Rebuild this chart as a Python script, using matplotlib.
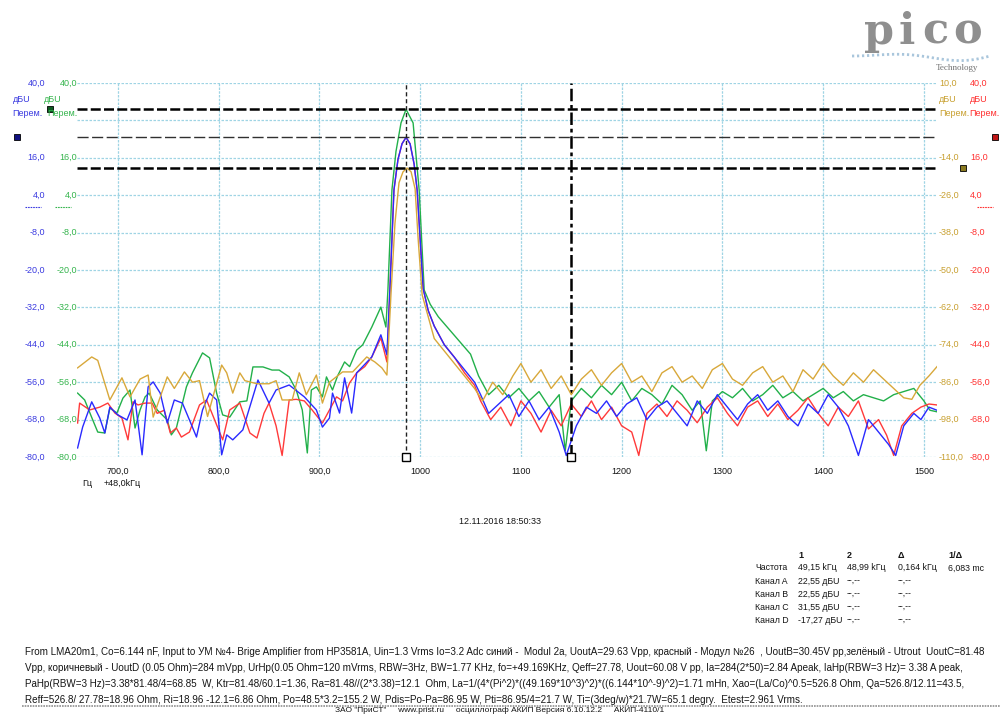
import matplotlib
matplotlib.use("Agg")
import matplotlib.pyplot as plt
import numpy as np
from matplotlib.transforms import blended_transform_factory

plt.rcParams['font.family'] = ['Liberation Sans', 'DejaVu Sans']

W, H = 1002, 715

# ---- axes ranges ----
X_MIN, X_MAX = 659.4, 1513.0
x_ticks = [700, 800, 900, 1000, 1100, 1200, 1300, 1400, 1500]
x_tick_labels = ['700,0', '800,0', '900,0', '1000', '1100', '1200', '1300', '1400', '1500']
y_ticks = [40, 28, 16, 4, -8, -20, -32, -44, -56, -68, -80]          # channels A, B, C
y_ticks_d = [10, -2, -14, -26, -38, -50, -62, -74, -86, -98, -110]   # channel D

# ---- traces: frequency (Hz, offset from 48.0 kHz) and level (dBU) ----
blue_f = [660, 665, 674, 682, 687, 692, 700, 709, 717, 724, 730, 735, 742, 749, 756, 764, 771,
          778, 784, 791, 798, 803, 808, 814, 824, 833, 839, 850, 857, 870, 885, 897, 903, 910,
          913, 920, 925, 932, 937, 952, 961, 967, 970, 974, 978, 982, 986, 990, 994, 997, 1003,
          1008, 1014, 1024, 1034, 1044, 1054, 1060, 1068, 1078, 1088, 1098, 1108, 1118, 1128,
          1138, 1145, 1155, 1165, 1175, 1185, 1195, 1205, 1215, 1225, 1235, 1245, 1255, 1265,
          1275, 1285, 1295, 1305, 1315, 1325, 1335, 1345, 1355, 1365, 1375, 1385, 1395, 1405,
          1415, 1425, 1435, 1445, 1455, 1465, 1472, 1480, 1490, 1497, 1505, 1513]
blue_db = [-77.1, -70.4, -62.3, -67.5, -72.3, -64.0, -66.5, -68.1, -61.7, -79.3, -57.5, -55.9,
           -59.5, -69.1, -61.7, -62.7, -68.1, -73.6, -64.9, -59.5, -61.7, -79.3, -72.9, -74.5,
           -71.3, -61.7, -55.3, -62.7, -58.5, -56.9, -60.7, -64.9, -70.4, -67.5, -59.5, -65.9,
           -54.6, -65.9, -53.0, -47.9, -40.8, -47.2, -26.0, 5.7, 15.5, 20.5, 22.55, 20.5, 14.0,
           5.7, -26.0, -33.0, -38.0, -44.0, -48.0, -52.0, -56.0, -60.0, -66.0, -63.0, -60.0,
           -67.0, -62.0, -68.0, -64.0, -72.0, -79.5, -70.0, -64.0, -66.0, -62.0, -67.0, -63.0,
           -61.0, -68.0, -64.0, -62.0, -66.0, -70.0, -62.0, -66.0, -60.0, -64.0, -68.0, -63.0,
           -60.0, -65.0, -62.0, -67.0, -70.0, -63.0, -66.0, -60.0, -64.0, -70.0, -79.5, -68.0,
           -72.0, -76.0, -79.5, -70.0, -66.0, -68.0, -64.0, -65.0]

red_f = [660, 662, 672, 682, 690, 697, 704, 710, 715, 720, 727, 734, 739, 746, 752, 758, 763,
         771, 781, 788, 794, 804, 811, 821, 831, 838, 845, 850, 857, 863, 870, 877, 885, 893,
         903, 910, 917, 923, 930, 937, 945, 952, 961, 967, 970, 974, 978, 982, 986, 990, 994,
         997, 1003, 1008, 1014, 1024, 1034, 1044, 1054, 1060, 1070, 1080, 1090, 1100, 1110,
         1120, 1130, 1140, 1150, 1160, 1170, 1180, 1190, 1200, 1210, 1217, 1225, 1235, 1245,
         1255, 1265, 1275, 1285, 1295, 1305, 1315, 1325, 1335, 1345, 1355, 1365, 1375, 1385,
         1395, 1405, 1415, 1425, 1435, 1445, 1455, 1463, 1470, 1478, 1488, 1497, 1505, 1513]
red_db = [-69.1, -62.7, -64.9, -64.0, -62.7, -65.9, -67.5, -74.5, -62.3, -63.3, -62.7, -62.7,
          -66.0, -65.0, -72.3, -70.7, -73.6, -72.0, -63.3, -61.7, -66.5, -74.5, -64.9, -62.7,
          -72.3, -73.9, -66.0, -62.7, -70.0, -79.5, -61.7, -61.5, -62.0, -65.0, -69.1, -64.9,
          -60.7, -62.0, -56.2, -53.0, -51.0, -47.9, -41.8, -49.5, -26.0, 5.7, 15.5, 20.5, 22.55,
          20.5, 14.0, 5.7, -26.0, -33.0, -38.0, -44.0, -48.0, -53.0, -57.0, -62.0, -68.0, -64.0,
          -70.0, -62.0, -66.0, -72.0, -65.0, -70.0, -63.0, -67.0, -62.0, -68.0, -64.0, -70.0,
          -72.0, -79.5, -66.0, -63.0, -67.0, -62.0, -65.0, -69.0, -64.0, -61.0, -66.0, -70.0,
          -64.0, -62.0, -67.0, -63.0, -68.0, -65.0, -61.0, -66.0, -70.0, -64.0, -67.0, -62.0,
          -71.0, -68.0, -73.0, -79.5, -70.0, -66.0, -64.0, -63.0, -63.3]

green_f = [660, 667, 675, 680, 687, 692, 699, 705, 712, 717, 722, 727, 731, 739, 749, 753, 758,
           768, 774, 784, 791, 798, 804, 811, 821, 828, 834, 844, 853, 860, 870, 877, 883, 888,
           892, 897, 903, 907, 913, 918, 925, 930, 937, 943, 952, 961, 966, 968, 972, 976, 981,
           986, 993, 999, 1004, 1010, 1018, 1026, 1034, 1042, 1050, 1058, 1068, 1078, 1088, 1098,
           1108, 1118, 1128, 1138, 1144, 1150, 1160, 1170, 1180, 1190, 1200, 1210, 1220, 1230,
           1240, 1250, 1260, 1270, 1278, 1284, 1290, 1300, 1310, 1320, 1330, 1340, 1350, 1360,
           1370, 1380, 1390, 1400, 1410, 1420, 1430, 1440, 1450, 1460, 1470, 1480, 1490, 1500,
           1506, 1513]
green_db = [-59.5, -61.7, -68.1, -72.0, -72.3, -64.3, -65.9, -61.1, -58.5, -70.7, -64.9, -60.7,
            -59.5, -64.9, -68.1, -72.9, -70.7, -57.5, -53.0, -46.6, -48.2, -59.5, -66.5, -67.2,
            -62.3, -62.0, -51.1, -51.1, -52.1, -52.1, -54.3, -58.5, -64.9, -78.7, -58.5, -57.5,
            -60.7, -54.3, -58.5, -54.0, -49.5, -51.0, -45.7, -44.0, -38.3, -31.9, -38.3, -26.4,
            5.7, 18.0, 27.2, 31.55, 27.2, 5.7, -26.4, -31.0, -35.0, -38.0, -41.0, -44.0, -47.0,
            -54.0, -60.0, -57.0, -61.0, -58.0, -62.0, -59.0, -64.0, -60.0, -78.0, -62.0, -58.0,
            -61.0, -57.0, -60.0, -56.0, -62.0, -58.0, -60.0, -63.0, -57.0, -60.0, -65.0, -62.0,
            -78.0, -62.0, -59.0, -61.0, -58.0, -62.0, -60.0, -57.0, -61.0, -59.0, -62.0, -60.0,
            -58.0, -61.0, -59.0, -62.0, -60.0, -61.0, -62.0, -60.0, -59.0, -58.0, -62.0, -65.0,
            -65.5]

orange_f = [660, 674, 680, 692, 704, 712, 722, 730, 735, 749, 756, 766, 774, 781, 789, 803, 808,
            814, 821, 826, 838, 850, 857, 863, 873, 880, 887, 897, 903, 910, 923, 933, 947, 955,
            962, 967, 971, 975, 979, 983, 987, 991, 995, 998, 1002, 1008, 1014, 1024, 1034, 1044,
            1054, 1062, 1072, 1082, 1092, 1100, 1110, 1120, 1130, 1140, 1150, 1160, 1170, 1180,
            1190, 1200, 1210, 1220, 1230, 1240, 1250, 1260, 1270, 1280, 1290, 1300, 1310, 1320,
            1330, 1340, 1350, 1360, 1370, 1380, 1390, 1400, 1410, 1420, 1430, 1440, 1450, 1460,
            1470, 1480, 1488, 1496, 1505, 1513]
orange_db = [-81.4, -77.9, -79.0, -91.7, -84.6, -90.7, -85.0, -83.7, -97.2, -84.3, -88.0, -82.7,
             -86.0, -85.5, -97.0, -80.5, -83.0, -89.5, -83.0, -85.5, -86.5, -86.5, -85.5, -91.7,
             -91.7, -83.0, -90.0, -83.7, -92.7, -86.0, -82.7, -82.7, -77.9, -79.5, -81.4, -83.7,
             -58.0, -35.0, -22.0, -18.5, -17.27, -18.5, -24.0, -40.0, -58.0, -65.0, -72.0, -76.0,
             -80.0, -84.0, -88.0, -92.0, -86.0, -90.0, -84.0, -80.0, -86.0, -82.0, -88.0, -84.0,
             -90.0, -85.0, -82.0, -87.0, -83.0, -80.0, -86.0, -84.0, -89.0, -83.0, -81.0, -86.0,
             -84.0, -88.0, -82.0, -80.0, -85.0, -87.0, -83.0, -81.0, -86.0, -84.0, -89.0, -82.0,
             -85.0, -80.0, -84.0, -87.0, -83.0, -86.0, -82.0, -85.0, -88.0, -91.0, -91.5, -87.0,
             -84.0, -81.0]

# ---- cursors ----
cursor1_f, cursor2_f = 1150, 986          # Hz offset (49,15 kHz and 48,99 kHz)
level_ab, level_c, level_d = 22.55, 31.55, -17.27

BLUE, RED, GREEN, ORANGE = '#2a2aff', '#ff3a3a', '#22b04a', '#d8a83a'
BLUE_T, GREEN_T, RED_T, ORANGE_T = '#3a3ae0', '#34b44c', '#ff3030', '#c8a030'
GRID = '#9fd4e4'
TXT = '#151515'

fig = plt.figure(figsize=(W / 100, H / 100), dpi=100)
fig.patch.set_facecolor('white')


def fx(x):
    return x / W


def fy(y):
    return 1 - y / H


ax = fig.add_axes([fx(77), fy(457), (937 - 77) / W, (457 - 83) / H])
ax.set_xlim(X_MIN, X_MAX)
ax.set_ylim(-80, 40)
for s in ax.spines.values():
    s.set_visible(False)
ax.set_xticks([])
ax.set_yticks([])

ax2 = ax.twinx()
ax2.set_ylim(-110, 10)
for s in ax2.spines.values():
    s.set_visible(False)
ax2.set_yticks([])

# grid
for yv in y_ticks:
    ax.axhline(yv, color=GRID, lw=0.9, ls=(0, (2.0, 1.2)), zorder=1)
for xv in x_ticks:
    ax.axvline(xv, color=GRID, lw=0.9, ls=(0, (2.0, 1.0)), zorder=1)

# traces
ax2.plot(orange_f, orange_db, color=ORANGE, lw=1.0, zorder=3)
ax.plot(green_f, green_db, color=GREEN, lw=1.0, zorder=3)
ax.plot(red_f, red_db, color=RED, lw=1.0, zorder=4)
ax.plot(blue_f, blue_db, color=BLUE, lw=1.0, zorder=5)

# cursor lines
ax.axhline(level_c, color='black', lw=1.8, ls=(0, (4, 1.3)), zorder=6)
ax.axhline(level_ab, color='#303030', lw=1.0, ls=(0, (8, 2.5)), zorder=6)
ax2.axhline(level_d, color='black', lw=1.8, ls=(0, (4, 1.3)), zorder=6)
ax.axvline(cursor2_f, color='#202020', lw=1.0, ls=(0, (3, 2)), zorder=6)
ax.axvline(cursor1_f, color='black', lw=1.8, ls=(0, (5, 1.5, 1.5, 1.5)), zorder=6)
ax.plot([cursor2_f, cursor1_f], [-80, -80], ls='none', marker='s', ms=5.5,
        mfc='white', mec='black', mew=1.0, clip_on=False, zorder=7)

# channel markers beside the axes
tr_l = blended_transform_factory(fig.transFigure, ax.transData)
tr_r = blended_transform_factory(fig.transFigure, ax2.transData)
ax.plot([fx(17)], [level_ab], marker='s', ms=5, mfc='#101080', mec='black', mew=0.6,
        transform=tr_l, clip_on=False)
ax.plot([fx(50)], [level_c], marker='s', ms=5, mfc='#0c5a20', mec='black', mew=0.6,
        transform=tr_l, clip_on=False)
ax.plot([fx(995)], [level_ab], marker='s', ms=5, mfc='#c01818', mec='black', mew=0.6,
        transform=tr_l, clip_on=False)
ax2.plot([fx(963)], [level_d], marker='s', ms=5, mfc='#8a7a20', mec='black', mew=0.6,
         transform=tr_r, clip_on=False)

FS = 6.5
# left tick labels (blue and green share the scale), right (orange, red)
for yv in y_ticks:
    if yv == 28:
        continue
    lab = f'{yv:.1f}'.replace('.', ',')
    ax.text(fx(45), yv, lab, transform=tr_l, ha='right', va='center', fontsize=FS, color=BLUE_T)
    ax.text(fx(77), yv, lab, transform=tr_l, ha='right', va='center', fontsize=FS, color=GREEN_T)
    ax.text(fx(970), yv, lab, transform=tr_l, ha='left', va='center', fontsize=FS, color=RED_T)
for yv in y_ticks_d:
    if yv == -2:
        continue
    lab = f'{yv:.1f}'.replace('.', ',')
    ax2.text(fx(939), yv, lab, transform=tr_r, ha='left', va='center', fontsize=FS, color=ORANGE_T)

# units / mode captions
for x, c in [(13, BLUE_T), (44, GREEN_T), (939, ORANGE_T), (970, RED_T)]:
    fig.text(fx(x), fy(99), 'дБU', fontsize=FS, color=c, ha='left', va='center')
fig.text(fx(12), fy(113), 'Перем.', fontsize=FS, color=BLUE_T, ha='left', va='center')
fig.text(fx(47), fy(113), 'Перем.', fontsize=FS, color=GREEN_T, ha='left', va='center')
fig.text(fx(939), fy(113), 'Перем.', fontsize=FS, color=ORANGE_T, ha='left', va='center')
fig.text(fx(969), fy(113), 'Перем.', fontsize=FS, color=RED_T, ha='left', va='center')

# short line-style swatches under the "4,0" labels
for x0, x1, c in [(25, 41, BLUE_T), (55, 71, GREEN_T), (977, 993, RED_T)]:
    fig.add_artist(plt.Line2D([fx(x0), fx(x1)], [fy(207), fy(207)], color=c, lw=0.8,
                              ls=(0, (1.5, 0.8)), transform=fig.transFigure))

# x tick labels
tr_x = blended_transform_factory(ax.transData, fig.transFigure)
for xv, lab in zip(x_ticks, x_tick_labels):
    ax.text(xv, fy(471), lab, transform=tr_x, ha='center', va='center', fontsize=FS, color=TXT)
fig.text(fx(82), fy(484), 'Гц', fontsize=FS, color=TXT, va='center')
fig.text(fx(104), fy(484), '+48,0kГц', fontsize=FS, color=TXT, va='center')

# timestamp
fig.text(fx(500), fy(522), '12.11.2016 18:50:33', fontsize=FS, ha='center', va='center', color=TXT)

# cursor table
col_x = [755, 798, 847, 898, 948]
hdr = ['', '1', '2', 'Δ', '1/Δ']
rows = [['Частота', '49,15 kГц', '48,99 kГц', '0,164 kГц', '6,083 mc'],
        ['Канал A', '22,55 дБU', '--,--', '--,--', ''],
        ['Канал B', '22,55 дБU', '--,--', '--,--', ''],
        ['Канал C', '31,55 дБU', '--,--', '--,--', ''],
        ['Канал D', '-17,27 дБU', '--,--', '--,--', '']]
for x, t in zip(col_x, hdr):
    fig.text(fx(x), fy(555), t, fontsize=FS, fontweight='bold', va='center', color=TXT)
for r, row in enumerate(rows):
    yy = 568 + r * 13.2
    for x, t in zip(col_x, row):
        fig.text(fx(x), fy(yy), t, fontsize=FS - 0.2, va='center', color=TXT)

# notes
notes = [
    'From LMA20m1, Co=6.144 nF, Input to УМ №4- Brige Amplifier from HP3581A, Uin=1.3 Vrms Io=3.2 Adc синий -  Modul 2a, UoutA=29.63 Vpp, красный - Модул №26  , UoutB=30.45V pp,зелёный - Utrout  UoutC=81.48',
    'Vpp, коричневый - UoutD (0.05 Ohm)=284 mVpp, UrHp(0.05 Ohm=120 mVrms, RBW=3Hz, BW=1.77 KHz, fo=+49.169KHz, Qeff=27.78, Uout=60.08 V pp, Ia=284(2*50)=2.84 Apeak, IaHp(RBW=3 Hz)= 3.38 A peak,',
    'PaHp(RBW=3 Hz)=3.38*81.48/4=68.85  W, Ktr=81.48/60.1=1.36, Ra=81.48//(2*3.38)=12.1  Ohm, La=1/(4*(Pi^2)*((49.169*10^3)^2)*((6.144*10^-9)^2)=1.71 mHn, Xao=(La/Co)^0.5=526.8 Ohm, Qa=526.8/12.11=43.5,',
    'Reff=526.8/ 27.78=18.96 Ohm, Ri=18.96 -12.1=6.86 Ohm, Po=48.5*3.2=155.2 W, Pdis=Po-Pa=86.95 W, Pti=86.95/4=21.7 W, Ti=(3deg/w)*21.7W=65.1 degry.  Etest=2.961 Vrms.',
]
for i, t in enumerate(notes):
    fig.text(fx(25), fy(652 + i * 16), t, fontsize=7.1, va='center', color=TXT)
fig.add_artist(plt.Line2D([fx(22), fx(1000)], [fy(706), fy(706)], color='#909090', lw=1.2,
                          ls=(0, (1, 0.6)), transform=fig.transFigure))
fig.text(fx(500), fy(711), 'ЗАО "ПриСТ"     www.prist.ru     осциллограф АКИП Версия 6.10.12.2     АКИП-4110/1',
         fontsize=6.0, ha='center', va='center', color=TXT)

# logo
wave_x = np.linspace(852, 990, 60)
wave_y = 56 - 6 * np.sin((wave_x - 852) / 138 * 2 * np.pi) * (wave_x - 852) / 138
fig.add_artist(plt.Line2D(fx(wave_x), fy(wave_y), color='#a9c6dc', lw=2.0,
                          ls=(0, (0.8, 1.0)), transform=fig.transFigure))
for ch, x in zip('pico', [879, 907, 935, 968]):
    fig.text(fx(x), fy(44), ch, fontsize=31, family='DejaVu Serif', fontweight='bold',
             color='#8f8f8f', ha='center', va='baseline')
fig.text(fx(957), fy(68), 'Technology', fontsize=6.5, family='Liberation Serif', color='#707070',
         ha='center', va='center')

fig.savefig('out.png', dpi=100, facecolor='white')
